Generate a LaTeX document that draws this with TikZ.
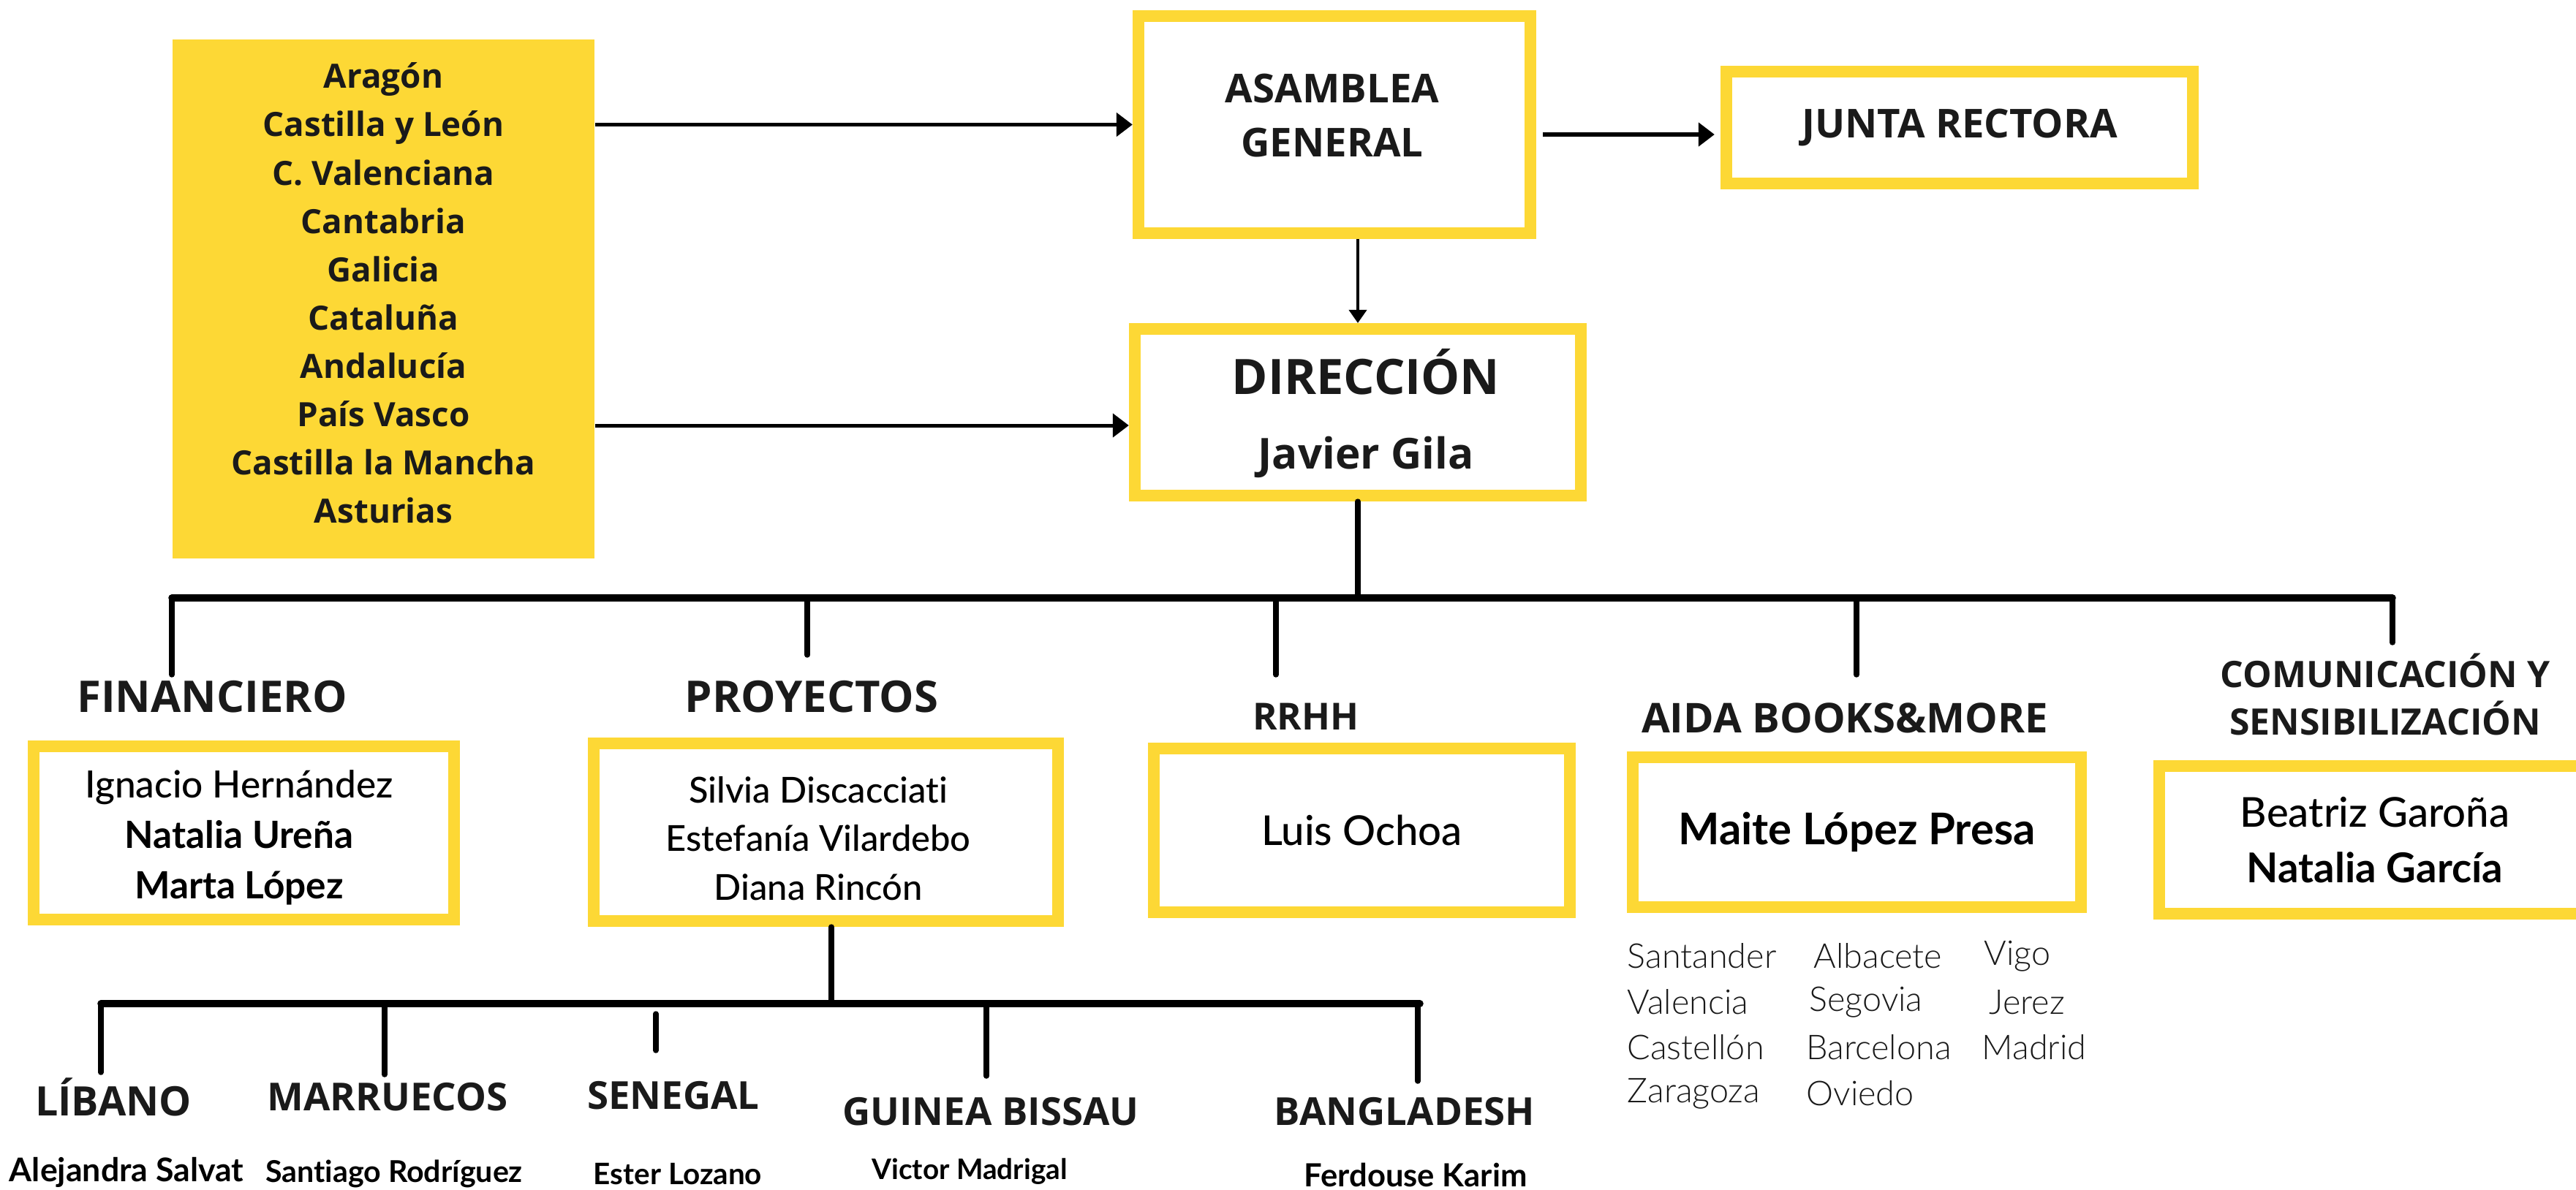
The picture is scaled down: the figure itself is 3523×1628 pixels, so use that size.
\documentclass[tikz,border=0pt]{standalone}
\usepackage{fontspec}
\setmainfont{Lato}[Ligatures=CommonOff]
\newfontfamily\headfont{Open Sans}
\newfontfamily\lightfont{Lato Light}[Ligatures=CommonOff]
\newfontfamily\midfont{Lato Medium}[Ligatures=CommonOff]
\usetikzlibrary{arrows.meta}
\definecolor{gold}{RGB}{253,216,53}
\definecolor{ink}{RGB}{26,26,26}
\newcommand{\fsz}[2]{\fontsize{#1}{#2}\selectfont}
\tikzset{
  ybox/.style={draw=gold, line width=0.16cm, inner sep=0pt, align=center, text=black},
  txt/.style={inner sep=0pt, align=center, text=black},
  head/.style={font=\headfont\bfseries, text=ink, inner sep=0pt, align=center},
  city/.style={font=\lightfont\fsz{13.3}{15}, text=ink, inner sep=0pt, anchor=west},
  pname/.style={font=\bfseries\fsz{12}{14}, text=black, inner sep=0pt},
  bus/.style={line width=0.095cm, line cap=round},
  drop/.style={line width=0.075cm, line cap=round},
  arr/.style={line width=0.05cm, -{Triangle[length=0.22cm,width=0.32cm]}},
}
\begin{document}
\begin{tikzpicture}[x=0.01cm, y=-0.01cm]
    \useasboundingbox (0,0) rectangle (3523,1628);
    \clip (0,0) rectangle (3523,1628);

    % top part
    \node (reg) at (524.5,409) [fill=gold, minimum width=5.77cm, minimum height=7.1cm, inner sep=0pt] {};
    \node (reg_t) at (524.5,401) [txt, text=ink, font=\headfont\bfseries\fsz{13}{18.8}]
        {Aragón\\Castilla y León\\C. Valenciana\\Cantabria\\Galicia\\Cataluña\\Andalucía\\País Vasco\\Castilla la Mancha\\Asturias};
    \node (asam) at (1825,170.5) [ybox, minimum width=5.36cm, minimum height=2.97cm] {};
    \node (asam_t) at (1822,158) [txt, text=ink, font=\headfont\bfseries\fsz{15.5}{21.3}] {ASAMBLEA\\GENERAL};
    \node (junta) at (2680,174.5) [ybox, minimum width=6.38cm, minimum height=1.53cm, text=ink,
        font=\headfont\bfseries\fsz{15.5}{18}] {JUNTA RECTORA};
    \node (dir) at (1857,564) [ybox, minimum width=6.10cm, minimum height=2.28cm] {};
    \node (dir_t) at (1868,566) [txt, text=ink, font=\headfont\bfseries\fsz{19}{29}] {DIRECCIÓN\\{\fsz{16.6}{29}Javier Gila}};

    \draw[arr] (reg.east |- asam.west) -- (asam.west);
    \draw[arr] ([yshift=-0.18cm]reg.east |- dir.west) -- ([yshift=-0.18cm]dir.west);
    \draw[arr, shorten <=0.09cm, shorten >=0.08cm] ([yshift=-0.135cm]asam.east) -- ([yshift=-0.135cm]asam.east -| junta.west);
    \draw[line width=0.04cm, -{Triangle[length=0.18cm,width=0.24cm]}] (asam.south -| dir.north) -- (dir.north);

    % areas
    \node (fin_h) at (290,953) [head, font=\headfont\bfseries\fsz{17}{20}] {FINANCIERO};
    \node (proy_h) at (1110,953) [head, font=\headfont\bfseries\fsz{17}{20}] {PROYECTOS};
    \node (rrhh_h) at (1786,980) [head, font=\headfont\bfseries\fsz{14.5}{17}] {RRHH};
    \node (aida_h) at (2523,982) [head, font=\headfont\bfseries\fsz{16}{19}] {AIDA BOOKS\&MORE};
    \node (com_h) at (3262,950) [head, font=\headfont\bfseries\fsz{14.2}{18.5}] {COMUNICACIÓN Y\\SENSIBILIZACIÓN};

    \node (fin) at (333.5,1139.5) [ybox, minimum width=5.75cm, minimum height=2.37cm] {};
    \node (fin_t) at (327,1146) [txt, font=\fsz{14.6}{19.6}]
        {{\midfont Ignacio Hernández}\\\textbf{Natalia Ureña}\\\textbf{Marta López}};
    \node (proy) at (1129.5,1138.5) [ybox, minimum width=6.35cm, minimum height=2.43cm] {};
    \node (proy_t) at (1119,1147) [txt, font=\midfont\fsz{13.9}{19}]
        {Silvia Discacciati\\Estefanía Vilardebo\\Diana Rincón};
    \node (rrhh) at (1862.5,1136) [ybox, minimum width=5.69cm, minimum height=2.24cm, font=\midfont\fsz{16}{19}] {Luis Ochoa};
    \node (aida) at (2539.5,1138.5) [ybox, minimum width=6.13cm, minimum height=2.05cm, font=\bfseries\fsz{17}{19}] {Maite López Presa};
    \node (com) at (3248,1149) [ybox, minimum width=5.90cm, minimum height=2.02cm, font=\fsz{16}{21.6}]
        {{\midfont Beatriz Garoña}\\\textbf{Natalia García}};

    \coordinate (bl) at (235,818);
    \coordinate (br) at (3272,818);
    \coordinate (d1) at (235,923);
    \coordinate (d2) at (1104,896);
    \coordinate (d3) at (1745,923);
    \coordinate (d4) at (2539,923);
    \coordinate (d5) at (3272,879);
    \draw[drop] (dir.south) -- (dir.south |- bl);
    \draw[bus] (bl) -- (br);
    \draw[drop] (d1 |- bl) -- (d1);
    \draw[drop] (d2 |- bl) -- (d2);
    \draw[drop] (d3 |- bl) -- (d3);
    \draw[drop] (d4 |- bl) -- (d4);
    \draw[drop] (d5 |- bl) -- (d5);

    % shops
    \node (c1) at (2225,1308) [city] {Santander};
    \node (c2) at (2480,1308) [city] {Albacete};
    \node (c3) at (2713,1308) [city] {Vigo};
    \node (c4) at (2225,1371) [city] {Valencia};
    \node (c5) at (2474,1371) [city] {Segovia};
    \node (c6) at (2720,1371) [city] {Jerez};
    \node (c7) at (2225,1433) [city] {Castellón};
    \node (c8) at (2470,1433) [city] {Barcelona};
    \node (c9) at (2710,1433) [city] {Madrid};
    \node (c10) at (2225,1496) [city] {Zaragoza};
    \node (c11) at (2470,1496) [city] {Oviedo};

    % countries
    \coordinate (sl) at (138,1373);
    \coordinate (sr) at (1942,1373);
    \coordinate (s1) at (138,1467);
    \coordinate (s2) at (526,1470);
    \coordinate (s3a) at (897,1387);
    \coordinate (s3) at (897,1437);
    \coordinate (s4) at (1349,1472);
    \coordinate (s5) at (1939,1479);
    \draw[drop] ([xshift=0.075cm]proy.south) -- ([xshift=0.075cm]proy.south |- sl);
    \draw[bus] (sl) -- (sr);
    \draw[drop] (s1 |- sl) -- (s1);
    \draw[drop] (s2 |- sl) -- (s2);
    \draw[drop] (s3a) -- (s3);
    \draw[drop] (s4 |- sl) -- (s4);
    \draw[drop] (s5 |- sl) -- (s5);

    \node (lib_h) at (155,1501) [head, font=\headfont\bfseries\fsz{15.8}{18}] {LÍBANO};
    \node (mar_h) at (530,1501) [head, font=\headfont\bfseries\fsz{15}{18}] {MARRUECOS};
    \node (sen_h) at (921,1499) [head, font=\headfont\bfseries\fsz{15}{18}] {SENEGAL};
    \node (gui_h) at (1355,1521) [head, font=\headfont\bfseries\fsz{15}{18}] {GUINEA BISSAU};
    \node (ban_h) at (1921,1521) [head, font=\headfont\bfseries\fsz{15}{18}] {BANGLADESH};

    \node (lib_n) at (173,1604) [pname, font=\bfseries\fsz{12.7}{14}] {Alejandra Salvat};
    \node (mar_n) at (539,1606) [pname, font=\bfseries\fsz{11.7}{14}] {Santiago Rodríguez};
    \node (sen_n) at (927,1606) [pname, font=\bfseries\fsz{11.5}{14}] {Ester Lozano};
    \node (gui_n) at (1326,1603) [pname, font=\bfseries\fsz{11}{14}] {Victor Madrigal};
    \node (ban_n) at (1936,1607) [pname, font=\bfseries\fsz{12.4}{14}] {Ferdouse Karim};
\end{tikzpicture}
\end{document}
